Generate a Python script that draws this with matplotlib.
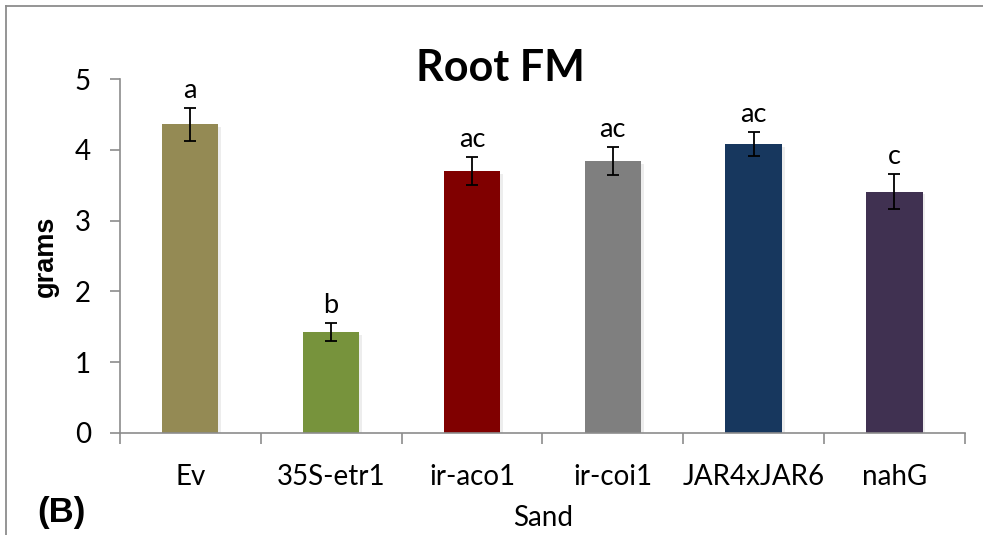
import matplotlib
matplotlib.use("Agg")
import matplotlib.pyplot as plt
import matplotlib.patheffects as pe
from matplotlib.lines import Line2D
import numpy as np

# ── data ──────────────────────────────────────────────────────────────────────
genotypes = ["Ev", "35S-etr1", "ir-aco1", "ir-coi1", "JAR4xJAR6", "nahG"]
root_fm = [4.36, 1.43, 3.70, 3.84, 4.08, 3.41]
root_fm_se = [0.23, 0.13, 0.20, 0.20, 0.17, 0.25]
sig_letters = ["a", "b", "ac", "ac", "ac", "c"]
bar_colors = ["#948A54", "#77933C", "#800000", "#7F7F7F", "#17375E", "#403151"]

LABEL_FONT = "Lato"
AXIS_GRAY = "#8C8C8C"

fig = plt.figure(figsize=(9.83, 5.35), dpi=100)
ax = fig.add_axes([0.122, 0.1907, 0.8595, 0.6616])

x = np.arange(len(genotypes))
bars = ax.bar(x, root_fm, width=0.40, color=bar_colors, zorder=2)
for b in bars:
    b.set_path_effects([pe.SimplePatchShadow(offset=(2, -2), shadow_rgbFace="#000000", alpha=0.07),
                        pe.Normal()])

ax.errorbar(x, root_fm, yerr=root_fm_se, fmt="none", ecolor="black",
            elinewidth=1.3, capsize=4.3, capthick=1.3, zorder=3)

# significance letters above the error bars
for xi, v, e, lab in zip(x, root_fm, root_fm_se, sig_letters):
    ax.annotate(lab, (xi, v + e), xytext=(0, 7), textcoords="offset points",
                ha="center", va="baseline", fontsize=19.5, family=LABEL_FONT)

ax.set_xlim(-0.5, len(genotypes) - 0.5)
ax.set_ylim(0, 5)

for side in ("top", "right"):
    ax.spines[side].set_visible(False)
for side in ("left", "bottom"):
    ax.spines[side].set_color(AXIS_GRAY)
    ax.spines[side].set_linewidth(1.2)

ax.set_yticks(range(6))
ax.tick_params(axis="y", direction="out", length=7, width=1.2, color=AXIS_GRAY,
               pad=14, labelsize=20)
ax.set_xticks(x)
ax.set_xticklabels(genotypes)
ax.set_xticks(np.arange(-0.5, len(genotypes)), minor=True)
ax.tick_params(axis="x", which="major", length=0, pad=22, labelsize=20)
ax.tick_params(axis="x", which="minor", direction="out", length=8, width=1.2,
               color=AXIS_GRAY)
for lab in ax.get_xticklabels() + ax.get_yticklabels():
    lab.set_family(LABEL_FONT)

ax.set_ylabel("grams", fontsize=19.5, fontweight="bold", family="Liberation Sans")
ax.yaxis.set_label_coords(-0.072, 0.5)

fig.text(0.552, 0.017, "Sand", ha="center", va="baseline",
         fontsize=20, family=LABEL_FONT)
fig.text(0.509, 0.848, "Root FM", ha="center", va="baseline", fontsize=31,
         fontweight="bold", family=LABEL_FONT)
fig.text(0.038, 0.025, "(B)", ha="left", va="baseline", fontsize=25,
         fontweight="bold", family="Liberation Sans")

# chart-area frame (top and left edges)
fig.add_artist(Line2D([0.0065, 1.0], [0.988, 0.988], color=AXIS_GRAY, lw=1.3))
fig.add_artist(Line2D([0.0065, 0.0065], [0.0, 0.988], color=AXIS_GRAY, lw=1.3))

fig.savefig("out.png", dpi=100)
